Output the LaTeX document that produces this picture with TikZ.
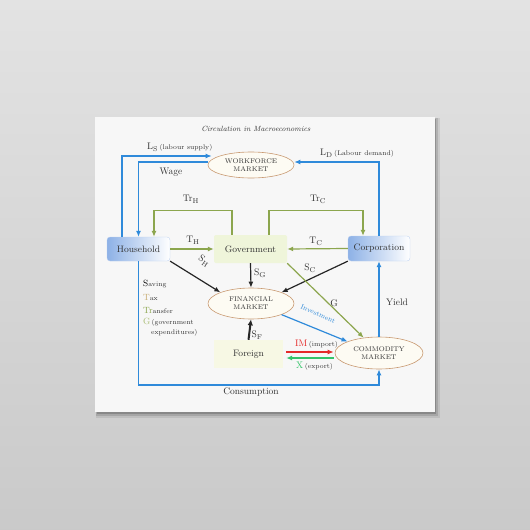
\documentclass[tikz,border=0pt]{standalone}
\usetikzlibrary{arrows.meta,shapes.geometric,calc}
\definecolor{blu}{HTML}{2F8ADA}
\definecolor{grn}{HTML}{8CA64E}
\definecolor{ellb}{HTML}{C99A72}
\definecolor{ellf}{HTML}{FDFBF3}
\definecolor{txt}{HTML}{333333}
\definecolor{govf}{HTML}{EFF5DA}
\definecolor{forf}{HTML}{F7F8E4}
\definecolor{boxl}{HTML}{8DB1E6}
\definecolor{imred}{HTML}{E52A2A}
\definecolor{xgrn}{HTML}{34C46A}
\definecolor{taxc}{HTML}{C7AC72}
\definecolor{gleg}{HTML}{A9BC72}
\begin{document}
\begin{tikzpicture}[x=1pt,y=-1pt,
  tip/.style={-{Latex[length=6pt,width=5pt]}},
  bl/.style={draw=blu,line width=1.4pt,tip},
  gr/.style={draw=grn,line width=1.2pt,tip},
  bk/.style={draw=black!85,line width=1.2pt,tip},
  mk/.style={ellipse,draw=ellb,fill=ellf,line width=0.6pt,text=txt,align=center,
     font=\fontsize{6.8}{8}\selectfont,inner sep=0pt},
  bluebox/.style={rectangle,rounded corners=3pt,left color=boxl,right color=white,
     draw=boxl!60,line width=0.3pt,text=black!80,font=\fontsize{9.3}{10}\selectfont,inner sep=0pt},
  lab/.style={text=txt,font=\fontsize{9.5}{10}\selectfont,inner sep=0pt},
  small/.style={text=txt,font=\fontsize{6.8}{8}\selectfont,inner sep=0pt}]
% background
\shade[top color=black!11,bottom color=black!21] (0,0) rectangle (530,530);
\useasboundingbox (0,0) rectangle (530,530);
% canvas shadow
\fill[black,opacity=0.08] (96,118) rectangle (440,418);
\fill[black,opacity=0.12] (96,118) rectangle (438,416);
\fill[black,opacity=0.18] (97,119) rectangle (436,414);
\fill[white!97!black] (95,117) rectangle (435,412);
% title
\node[text=txt,font=\itshape\fontsize{7.5}{8}\selectfont] (title) at (256,129) {Circulation in Macroeconomics};
% nodes
\node[mk,minimum width=86pt,minimum height=26pt] (wf) at (251,165) {WORKFORCE\\MARKET};
\node[bluebox,minimum width=63pt,minimum height=24pt] (hh) at (138.5,249) {Household};
\node[rectangle,rounded corners=2pt,fill=govf,text=black!80,font=\fontsize{9.3}{10}\selectfont,
   minimum width=73pt,minimum height=28pt,inner sep=0pt] (gov) at (250.5,249) {Government};
\node[bluebox,minimum width=62pt,minimum height=25pt] (corp) at (379,248.5) {Corporation};
\node[mk,minimum width=86pt,minimum height=31pt] (fm) at (251,303.5) {FINANCIAL\\MARKET};
\node[rectangle,fill=forf,text=black!80,font=\fontsize{9.3}{10}\selectfont,
   minimum width=69pt,minimum height=28pt,inner sep=0pt] (for) at (248.5,354) {Foreign};
\node[mk,minimum width=88pt,minimum height=32pt] (cm) at (379,353) {COMMODITY\\MARKET};
% labour flows
\draw[bl] ([shift={(-16.5,0)}]hh.north) |- ([shift={(4,-9)}]wf.west);
\draw[bl] ([shift={(0,-3)}]wf.west) -| (hh.north);
\draw[bl] (corp.north) |- ([shift={(0,-3)}]wf.east);
% transfers
\draw[gr] ([shift={(-18.5,0)}]gov.north) -- ++(0,-24.3) -| ([shift={(15.5,0)}]hh.north);
\draw[gr] ([shift={(18.5,0)}]gov.north) -- ++(0,-24.3) -| ([shift={(-16,0)}]corp.north);
% taxes
\draw[gr] (hh.east) -- (gov.west);
\draw[gr] (corp.west) -- (gov.east);
% savings
\draw[bk] (hh.south east) -- (fm.160);
\draw[bk] (gov.south) -- (fm.north);
\draw[bk] (corp.south west) -- (fm.20);
\draw[draw=black!85,line width=2pt,-{Latex[length=6pt,width=5.5pt]}] (for.north) -- (fm.south);
% G and investment
\draw[gr] (gov.south east) -- (cm.135);
\draw[draw=blu,line width=1.2pt,tip] (fm.-20) -- (cm.160);
% trade
\draw[draw=imred,line width=1.2pt,tip] ([shift={(3,-2)}]for.east) -- ([shift={(-1,-1)}]cm.west);
\draw[draw=xgrn,line width=1.2pt,tip] ([shift={(-1,5)}]cm.west) -- ([shift={(3,4)}]for.east);
% consumption and yield
\draw[bl] (hh.south) -- ++(0,124) -| (cm.south);
\draw[bl] (cm.north) -- (corp.south);
% labels
\node[lab,anchor=west] (lls) at (147,147) {L$_{\mathrm{S}}$\,{\fontsize{6.8}{8}\selectfont(labour supply)}};
\node[lab] (lwage) at (171,172) {Wage};
\node[lab,anchor=west] (lld) at (320,153) {L$_{\mathrm{D}}$\,{\fontsize{6.8}{8}\selectfont(Labour demand)}};
\node[lab] (ltrh) at (191,199) {Tr$_{\mathrm{H}}$};
\node[lab] (ltrc) at (318,199) {Tr$_{\mathrm{C}}$};
\node[lab] (lth) at (193,240) {T$_{\mathrm{H}}$};
\node[lab] (ltc) at (316,241) {T$_{\mathrm{C}}$};
\node[lab,rotate=-35] (lsh) at (204,261) {S$_{\mathrm{H}}$};
\node[lab] (lsg) at (260,273) {S$_{\mathrm{G}}$};
\node[lab] (lsc) at (310,268) {S$_{\mathrm{C}}$};
\node[lab] (lg) at (334,303) {G};
\node[lab] (lyield) at (397,302) {Yield};
\node[lab] (lsf) at (257,335) {S$_{\mathrm{F}}$};
\node[small,text=blu,rotate=-24] (linv) at (318,314) {Investment};
\node[lab,anchor=west] (lim) at (295,344) {\textcolor{imred}{IM}\,{\fontsize{6.8}{8}\selectfont(import)}};
\node[lab,anchor=west] (lx) at (296,366) {\textcolor{xgrn}{X}\,{\fontsize{6.8}{8}\selectfont(export)}};
\node[lab] (lcons) at (251,392) {Consumption};
% legend
\node[small,anchor=west] (leg1) at (143,284.5) {{\color{black}\fontsize{9}{9}\selectfont S}aving};
\node[small,anchor=west] (leg2) at (143,297) {{\color{taxc}\fontsize{9}{9}\selectfont T}ax};
\node[small,anchor=west] (leg3) at (143,310) {{\color{grn}\fontsize{9}{9}\selectfont Tr}ansfer};
\node[small,anchor=west] (leg4) at (143,322.5) {{\color{gleg}\fontsize{9}{9}\selectfont G}\,(government};
\node[small,anchor=west] (leg5) at (151,332.5) {expenditures)};
\end{tikzpicture}
\end{document}
